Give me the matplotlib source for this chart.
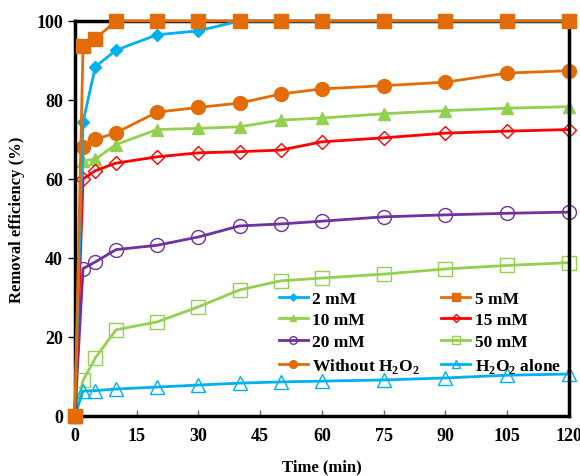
import numpy as np
import matplotlib
matplotlib.use("Agg")
import matplotlib.pyplot as plt

plt.rcParams['font.family'] = ['Liberation Serif', 'DejaVu Serif']
plt.rcParams['mathtext.fontset'] = 'custom'
plt.rcParams['mathtext.rm'] = 'Liberation Serif:bold'
plt.rcParams['mathtext.bf'] = 'Liberation Serif:bold'

# sampling times (min)
time = [0, 2, 5, 10, 20, 30, 40, 50, 60, 75, 90, 105, 120]

# removal efficiency (%) for each H2O2 dose
eff_2mM = [0, 74.5, 88.4, 92.6, 96.5, 97.5, 100, 100, 100, 100, 100, 100, 100]
eff_5mM = [0, 93.6, 95.5, 100, 100, 100, 100, 100, 100, 100, 100, 100, 100]
eff_10mM = [0, 64.6, 65.0, 68.7, 72.5, 72.8, 73.2, 74.9, 75.4, 76.5, 77.3, 77.9, 78.3]
eff_15mM = [0, 60.0, 62.1, 64.0, 65.6, 66.6, 66.9, 67.3, 69.4, 70.4, 71.6, 72.1, 72.5]
eff_20mM = [0, 37.3, 39.0, 42.1, 43.2, 45.3, 48.1, 48.6, 49.3, 50.4, 50.9, 51.3, 51.6]
eff_50mM = [0, 9.0, 14.7, 21.8, 23.8, 27.6, 31.9, 34.2, 34.9, 35.9, 37.2, 38.1, 38.8]
eff_no_h2o2 = [0, 68.2, 70.0, 71.7, 76.9, 78.1, 79.2, 81.5, 82.8, 83.6, 84.5, 86.8, 87.4]
eff_h2o2_only = [0, 6.3, 6.4, 6.8, 7.3, 7.8, 8.3, 8.6, 8.8, 9.1, 9.6, 10.3, 10.6]

blue = '#00B0F0'
orange = '#E36C09'
green = '#92D050'
red = '#FF0000'
purple = '#7030A0'

fig = plt.figure(figsize=(5.8, 4.77), dpi=100)
ax = fig.add_axes([0.129, 0.126, 0.852, 0.828])

lw = 2.0
h = {}
h['2'], = ax.plot(time, eff_2mM, color=blue, lw=lw, marker='D', ms=6.5, label='2 mM', clip_on=False, zorder=6)
h['10'], = ax.plot(time, eff_10mM, color=green, lw=lw, marker='^', ms=9, label='10 mM', clip_on=False)
h['20'], = ax.plot(time, eff_20mM, color=purple, lw=lw, marker='o', ms=10, mfc='none', mew=1.0,
                   label='20 mM', clip_on=False)
h['no'], = ax.plot(time, eff_no_h2o2, color=orange, lw=lw, marker='o', ms=10, label='Without H$_2$O$_2$',
                   clip_on=False)
h['5'], = ax.plot(time, eff_5mM, color=orange, lw=lw, marker='s', ms=10, label='5 mM', clip_on=False, zorder=7)
h['15'], = ax.plot(time, eff_15mM, color=red, lw=lw, marker='D', ms=7, mfc='none', mew=1.0,
                   label='15 mM', clip_on=False)
h['50'], = ax.plot(time, eff_50mM, color=green, lw=lw, marker='s', ms=10, mfc='none', mew=1.0,
                   label='50 mM', clip_on=False)
h['h2'], = ax.plot(time, eff_h2o2_only, color=blue, lw=lw, marker='^', ms=10, mfc='none', mew=1.0,
                   label='H$_2$O$_2$ alone', clip_on=False)

ax.set_xlim(0, 120)
ax.set_ylim(0, 100)
ax.set_xticks(np.arange(0, 121, 15))
ax.set_yticks(np.arange(0, 101, 20))
ax.tick_params(axis='x', direction='in', length=4, width=1, color='#666666', labelsize=13, pad=8)
ax.tick_params(axis='y', direction='out', length=5, width=1, labelsize=13)
for lab in ax.get_xticklabels() + ax.get_yticklabels():
    lab.set_fontweight('bold')

for s in ax.spines.values():
    s.set_linewidth(2.5)
    s.set_color('black')

ax.set_xlabel('Time (min)', fontsize=12, fontweight='bold', labelpad=10)
ax.set_ylabel('Removal efficiency (%)', fontsize=12, fontweight='bold', labelpad=8)

# two-column legend, filled column by column
order = ['2', '10', '20', 'no', '5', '15', '50', 'h2']
leg = ax.legend([h[k] for k in order], [h[k].get_label() for k in order], ncol=2,
                loc='lower right', bbox_to_anchor=(1.015, 0.065), frameon=False,
                prop={'weight': 'bold', 'size': 12.5}, handlelength=1.7, markerscale=0.55,
                labelspacing=0.32, columnspacing=1.2, handletextpad=0.25)

fig.savefig('out.png', dpi=100)
